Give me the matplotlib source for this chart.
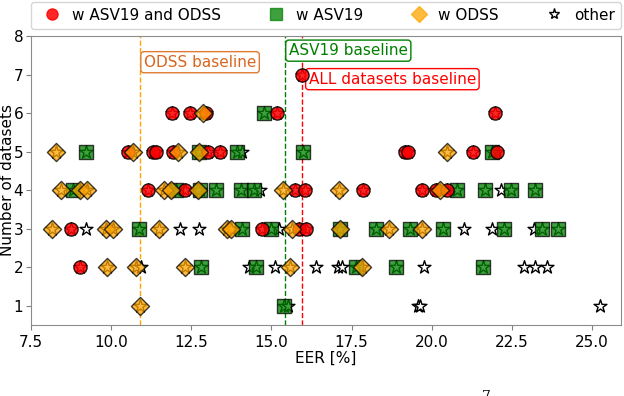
import numpy as np
import matplotlib.pyplot as plt
from matplotlib.lines import Line2D

# EER [%] and number of training datasets, per group
both_eer = [15.95,
            11.90, 12.46, 12.96, 15.17, 21.98,
            10.52, 11.30, 11.40, 11.92, 13.01, 13.40, 19.15, 19.25, 21.29, 22.02,
            11.14, 12.29, 15.74, 16.05, 17.86, 19.68, 20.12, 20.46,
            8.74, 14.70, 15.86, 16.07,
            9.04]
both_n = [7,
          6, 6, 6, 6, 6,
          5, 5, 5, 5, 5, 5, 5, 5, 5, 5,
          4, 4, 4, 4, 4, 4, 4, 4,
          3, 3, 3, 3,
          2]

asv_eer = [14.77,
           9.21, 12.73, 13.92, 15.97, 21.88,
           8.81, 12.03, 12.78, 13.27, 14.05, 14.46, 20.79, 21.65, 22.46, 23.21,
           10.86, 14.08, 14.98, 17.14, 18.25, 19.31, 20.34, 22.24, 23.43, 23.93,
           12.80, 14.52, 17.63, 18.89, 21.60,
           15.38]
asv_n = [6,
         5, 5, 5, 5, 5,
         4, 4, 4, 4, 4, 4, 4, 4, 4, 4,
         3, 3, 3, 3, 3, 3, 3, 3, 3, 3,
         2, 2, 2, 2, 2,
         1]

odss_eer = [12.85,
            8.27, 10.68, 12.08, 12.73, 20.48,
            8.45, 9.02, 9.24, 11.64, 11.86, 12.70, 15.36, 17.09, 20.24,
            8.17, 9.84, 10.07, 11.50, 13.62, 13.73, 15.65, 17.15, 18.68, 19.68,
            9.87, 10.76, 12.29, 15.58, 17.83,
            10.89]
odss_n = [6,
          5, 5, 5, 5, 5,
          4, 4, 4, 4, 4, 4, 4, 4, 4,
          3, 3, 3, 3, 3, 3, 3, 3, 3, 3,
          2, 2, 2, 2, 2,
          1]

other_eer = [14.08,
             14.64, 22.17,
             9.23, 12.15, 12.75, 15.22, 21.01, 21.87, 23.20,
             10.94, 14.29, 15.12, 16.38, 17.06, 17.21, 19.75, 22.88, 23.22, 23.60,
             15.52, 19.58, 19.63, 25.23]
other_n = [5,
           4, 4,
           3, 3, 3, 3, 3, 3, 3,
           2, 2, 2, 2, 2, 2, 2, 2, 2, 2,
           1, 1, 1, 1]

baseline_odss = 10.9
baseline_asv = 15.42
baseline_all = 15.96

fig = plt.figure(figsize=(6.24, 3.96), dpi=100)
ax = fig.add_axes([31 / 624, 1 - 325 / 396, 590 / 624, 289 / 396])

# every configuration gets a star underneath
all_eer = both_eer + asv_eer + odss_eer + other_eer
all_n = both_n + asv_n + odss_n + other_n
ax.scatter(all_eer, all_n, marker='*', s=95, facecolor='white', edgecolor='black', linewidth=1, zorder=2)

ax.scatter(asv_eer, asv_n, marker='s', s=90, color='green', edgecolor='black', alpha=0.75, linewidth=1, zorder=3)
ax.scatter(both_eer, both_n, marker='o', s=90, color='red', edgecolor='black', alpha=0.85, linewidth=1, zorder=4)
ax.scatter(odss_eer, odss_n, marker='D', s=85, color='orange', edgecolor='black', alpha=0.75, linewidth=1, zorder=5)

ax.axvline(baseline_odss, color='orange', linestyle='--', linewidth=1, zorder=1)
ax.axvline(baseline_asv, color='green', linestyle='--', linewidth=1, zorder=1)
ax.axvline(baseline_all, color='red', linestyle='--', linewidth=1, zorder=1)

ax.text(baseline_odss + 0.12, 7.32, 'ODSS baseline', color='#d9661f', fontsize=11, va='center',
        bbox=dict(boxstyle='round,pad=0.2', fc='white', ec='#e07a30'))
ax.text(baseline_asv + 0.12, 7.62, 'ASV19 baseline', color='green', fontsize=11, va='center',
        bbox=dict(boxstyle='round,pad=0.2', fc='white', ec='green'))
ax.text(baseline_all + 0.2, 6.88, 'ALL datasets baseline', color='red', fontsize=11, va='center',
        bbox=dict(boxstyle='round,pad=0.2', fc='white', ec='red'))

ax.set_xlim(7.5, 25.9)
ax.set_ylim(0.5, 8)
ax.set_xticks([7.5, 10.0, 12.5, 15.0, 17.5, 20.0, 22.5, 25.0])
ax.set_yticks(range(1, 9))
ax.tick_params(labelsize=11, color='0.5')
ax.tick_params(axis='y', pad=2)
for sp in ax.spines.values():
    sp.set_color('0.55')
ax.set_xlabel('EER [%]', fontsize=11, labelpad=1)
ax.set_ylabel('Number of datasets', fontsize=11)
ax.yaxis.set_label_coords(-0.027, 0.5)

handles = [
    Line2D([], [], linestyle='none', marker='o', markersize=8, color='red', alpha=0.85),
    Line2D([], [], linestyle='none', marker='s', markersize=8, color='green', alpha=0.75),
    Line2D([], [], linestyle='none', marker='D', markersize=8, color='orange', alpha=0.75),
    Line2D([], [], linestyle='none', marker='*', markersize=8, markerfacecolor='white', markeredgecolor='black'),
]
labels = ['w ASV19 and ODSS', 'w ASV19', 'w ODSS', 'other']
ax.legend(handles, labels, ncol=4, loc='lower left', bbox_to_anchor=(0, 1.025, 1, 0.1),
          mode='expand', fontsize=11, borderaxespad=0, handletextpad=0.3)

fig.text(486 / 624, 6 / 396, '7', fontsize=10, family='DejaVu Serif', ha='center', va='top')

fig.savefig('out.png', dpi=100)
